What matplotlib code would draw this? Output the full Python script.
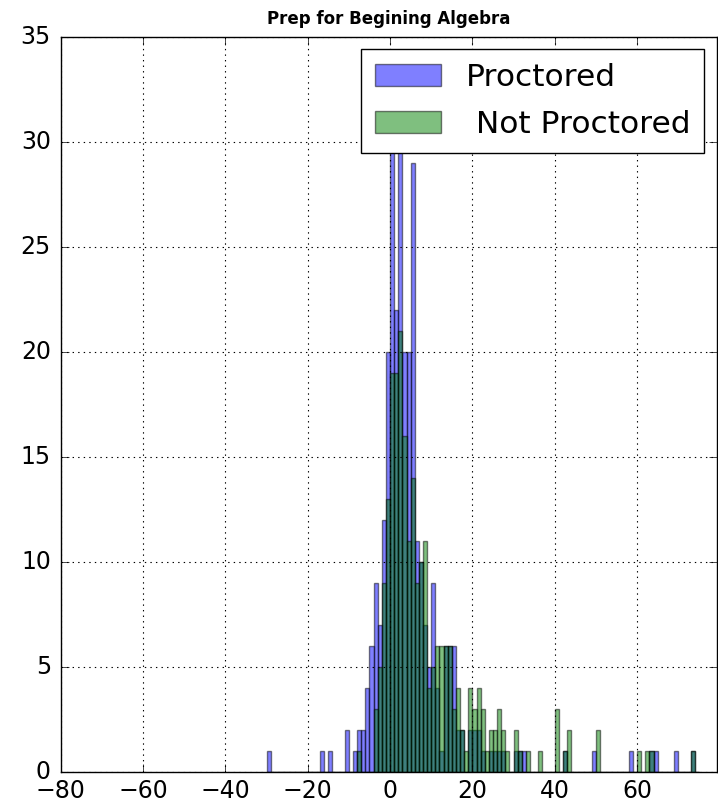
import numpy as np
import matplotlib
matplotlib.use('Agg')
import matplotlib.pyplot as plt

plt.style.use('classic')
plt.rcParams['font.family'] = ['DejaVu Sans']

# ==================== 数据（每个 bin 宽度为 1，记录左边界）====================
proctored_bins = [-30, -17, -15, -11, -9, -8, -7, -6, -5, -4, -3, -2, -1, 0, 1, 2, 3, 4, 5,
                  6, 7, 8, 9, 10, 11, 12, 13, 14, 15, 16, 17, 19, 20, 21, 22, 24, 25, 26,
                  27, 30, 31, 32, 42, 49, 58, 63, 64, 69, 73]
proctored_counts = [1, 1, 1, 2, 1, 2, 2, 4, 6, 9, 7, 12, 20, 32, 22, 31, 20, 20, 29,
                    11, 10, 7, 5, 9, 4, 1, 6, 6, 6, 2, 2, 2, 2, 2, 1, 1, 1, 1,
                    1, 1, 1, 1, 1, 1, 1, 1, 1, 1, 1]

not_proctored_bins = [-8, -4, -3, -2, -1, 0, 1, 2, 3, 4, 5, 6, 7, 8, 9, 10, 11, 12, 13, 14,
                      15, 16, 17, 18, 19, 20, 21, 22, 23, 24, 25, 26, 27, 28, 30, 31, 33,
                      36, 40, 42, 43, 50, 60, 62, 63, 73]
not_proctored_counts = [1, 3, 5, 9, 13, 19, 19, 21, 16, 11, 14, 9, 10, 11, 4, 5, 6, 6, 6, 6,
                        3, 4, 2, 1, 4, 3, 4, 3, 1, 2, 2, 3, 2, 1, 2, 1, 1,
                        1, 3, 1, 2, 2, 1, 1, 1, 1]

edges = np.arange(-30, 76, 1)

fig = plt.figure(figsize=(7.18, 8.07), dpi=100, facecolor='white')
ax = fig.add_axes([0.0845, 0.0434, 0.9141, 0.911])

ax.hist(np.array(proctored_bins) + 0.5, bins=edges, weights=proctored_counts,
        color='b', alpha=0.5, label='Proctored')
ax.hist(np.array(not_proctored_bins) + 0.5, bins=edges, weights=not_proctored_counts,
        color='g', alpha=0.5, label=' Not Proctored')

ax.set_xlim(-80, 79.4)
ax.set_ylim(0, 35)
ax.set_xticks(np.arange(-80, 61, 20))
ax.set_yticks(np.arange(0, 36, 5))
ax.tick_params(labelsize=17, length=6, direction='in', top=True, right=True)
ax.tick_params(axis='y', pad=7)
ax.tick_params(axis='x', pad=5)
ax.grid(True, color='k', linestyle=':', linewidth=0.8)

ax.set_title('Prep for Begining Algebra', fontsize=12, fontweight='bold', pad=9)

ax.legend(loc='upper right', fontsize=22.5, fancybox=False, handlelength=2.1,
          handletextpad=0.8, borderpad=0.45, labelspacing=0.55, borderaxespad=0.4)

fig.savefig('out.png', dpi=100, facecolor='white')
